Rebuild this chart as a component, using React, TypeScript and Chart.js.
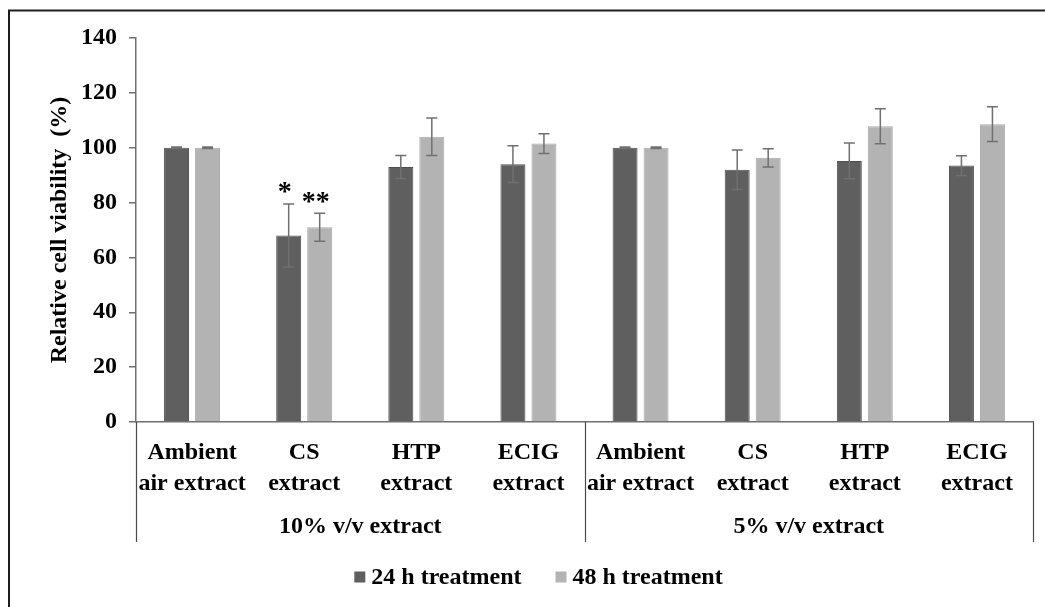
import React, { useEffect, useRef } from "react";
import { Chart, registerables } from "chart.js";

Chart.register(...registerables);

const categories: string[][] = [
  ["Ambient", "air extract"],
  ["CS", "extract"],
  ["HTP", "extract"],
  ["ECIG", "extract"],
  ["Ambient", "air extract"],
  ["CS", "extract"],
  ["HTP", "extract"],
  ["ECIG", "extract"],
];
const groupLabels = ["10% v/v extract", "5% v/v extract"];
const groupSize = 4;
const seriesLabels = ["24 h treatment", "48 h treatment"];
const values24 = [100, 68, 93, 94, 100, 92, 95.2, 93.5];
const errors24 = [0.3, 11.5, 4.2, 6.7, 0.3, 7.2, 6.5, 3.6];
const values48 = [100, 71, 104, 101.5, 100, 96.3, 107.8, 108.6];
const errors48 = [0.3, 5.1, 6.8, 3.6, 0.3, 3.3, 6.4, 6.3];
const marks24 = ["", "*", "", "", "", "", "", ""];
const marks48 = ["", "**", "", "", "", "", "", ""];
const yMin = 0;
const yMax = 140;
const yStep = 20;

const FONT = "'Liberation Serif', 'Times New Roman', serif";
const DARK = "#5f5f5f";
const LIGHT = "#b3b3b3";
const AXIS = "#707070";

const framePlugin = {
  id: "frame",
  beforeDraw(chart: any) {
    const ctx = chart.ctx;
    ctx.save();
    ctx.fillStyle = "#ffffff";
    ctx.fillRect(0, 0, chart.width, chart.height);
    ctx.strokeStyle = "#1e1e1e";
    ctx.lineWidth = 2;
    ctx.beginPath();
    ctx.moveTo(9, chart.height);
    ctx.lineTo(9, 10.5);
    ctx.lineTo(chart.width, 10.5);
    ctx.stroke();
    ctx.restore();
  },
};

const errorBarPlugin = {
  id: "errorBars",
  afterDatasetsDraw(chart: any) {
    const ctx = chart.ctx;
    const yScale = chart.scales.y;
    ctx.save();
    chart.data.datasets.forEach((ds: any, i: number) => {
      const meta = chart.getDatasetMeta(i);
      meta.data.forEach((bar: any, j: number) => {
        const v = ds.data[j];
        const e = ds.errors[j];
        const x = bar.x;
        const yTop = yScale.getPixelForValue(v + e);
        const yBot = yScale.getPixelForValue(v - e);
        ctx.strokeStyle = AXIS;
        ctx.lineWidth = 1.5;
        ctx.beginPath();
        ctx.moveTo(x, yTop);
        ctx.lineTo(x, yBot);
        ctx.moveTo(x - 5.5, yTop);
        ctx.lineTo(x + 5.5, yTop);
        ctx.moveTo(x - 5.5, yBot);
        ctx.lineTo(x + 5.5, yBot);
        ctx.stroke();
        const mark = ds.marks[j];
        if (mark) {
          ctx.fillStyle = "#000";
          ctx.font = `bold 28px ${FONT}`;
          ctx.textAlign = "center";
          ctx.textBaseline = "middle";
          ctx.fillText(mark, x - 4, yTop - 11);
        }
      });
    });
    ctx.restore();
  },
};

const groupPlugin = {
  id: "groups",
  afterDraw(chart: any) {
    const ctx = chart.ctx;
    const xScale = chart.scales.x;
    const area = chart.chartArea;
    const lineBottom = area.bottom + 120;
    ctx.save();
    ctx.strokeStyle = "#4a4a4a";
    ctx.lineWidth = 1.2;
    const nGroups = groupLabels.length;
    for (let g = 0; g <= nGroups; g++) {
      const xb = Math.round(xScale.getPixelForValue(g * groupSize - 0.5)) + 0.5;
      ctx.beginPath();
      ctx.moveTo(xb, area.bottom);
      ctx.lineTo(xb, lineBottom);
      ctx.stroke();
    }
    ctx.fillStyle = "#000";
    ctx.font = `bold 24px ${FONT}`;
    ctx.textAlign = "center";
    ctx.textBaseline = "middle";
    groupLabels.forEach((lab, g) => {
      const x0 = xScale.getPixelForValue(g * groupSize - 0.5);
      const x1 = xScale.getPixelForValue((g + 1) * groupSize - 0.5);
      ctx.fillText(lab, (x0 + x1) / 2, area.bottom + 105);
    });

    // legend
    const box = 11;
    const gap = 6;
    const itemGap = 34;
    const colors = [DARK, LIGHT];
    const widths = seriesLabels.map((s) => ctx.measureText(s).width);
    const total = widths.reduce((a, w) => a + box + gap + w, 0) + itemGap * (seriesLabels.length - 1);
    let x = chart.width / 2 + 16 - total / 2;
    const yc = 577;
    ctx.textAlign = "left";
    seriesLabels.forEach((s, i) => {
      ctx.fillStyle = colors[i];
      ctx.fillRect(x, yc - box / 2, box, box);
      x += box + gap;
      ctx.fillStyle = "#000";
      ctx.fillText(s, x, yc + 1);
      x += widths[i] + itemGap;
    });
    ctx.restore();
  },
};

export default function App() {
  const ref = useRef<HTMLCanvasElement | null>(null);

  useEffect(() => {
    if (!ref.current) return;
    const chart = new Chart(ref.current, {
      type: "bar",
      data: {
        labels: categories,
        datasets: [
          {
            label: seriesLabels[0],
            data: values24,
            errors: errors24,
            marks: marks24,
            backgroundColor: DARK,
            borderColor: "#4f4f4f",
            borderWidth: 1,
            categoryPercentage: 0.553,
            barPercentage: 0.806,
          } as any,
          {
            label: seriesLabels[1],
            data: values48,
            errors: errors48,
            marks: marks48,
            backgroundColor: LIGHT,
            borderColor: "#a9a9a9",
            borderWidth: 1,
            categoryPercentage: 0.553,
            barPercentage: 0.806,
          } as any,
        ],
      },
      options: {
        responsive: false,
        animation: false,
        devicePixelRatio: 1,
        layout: { padding: { top: 38, right: 12, left: 0, bottom: 0 } },
        plugins: {
          legend: { display: false },
          tooltip: { enabled: false },
        },
        scales: {
          x: {
            afterFit: (s: any) => {
              s.height = 185;
            },
            grid: { display: true, drawOnChartArea: false, drawTicks: false, color: "transparent" },
            border: { display: true, color: AXIS, width: 1.5 },
            ticks: {
              autoSkip: false,
              maxRotation: 0,
              minRotation: 0,
              padding: 15,
              color: "#000",
              font: { family: FONT, size: 24, weight: "bold", lineHeight: 31 / 24 },
            },
          },
          y: {
            min: yMin,
            max: yMax,
            afterFit: (s: any) => {
              s.width = 136;
            },
            grid: {
              display: true,
              drawOnChartArea: false,
              drawTicks: true,
              tickLength: 7,
              color: AXIS,
              lineWidth: 1.5,
            },
            border: { display: true, color: AXIS, width: 1.5 },
            ticks: {
              stepSize: yStep,
              padding: 12,
              color: "#000",
              font: { family: FONT, size: 24, weight: "bold" },
            },
            title: {
              display: true,
              text: "Relative cell viability  (%)",
              color: "#000",
              padding: { top: 45, bottom: 0 },
              font: { family: FONT, size: 24, weight: "bold" },
            },
          },
        },
      } as any,
      plugins: [framePlugin, errorBarPlugin, groupPlugin],
    });
    return () => chart.destroy();
  }, []);

  return (
    <div style={{ position: "absolute", left: 0, top: 0, width: 1045, height: 607 }}>
      <canvas ref={ref} width={1045} height={607} style={{ display: "block" }} />
    </div>
  );
}
